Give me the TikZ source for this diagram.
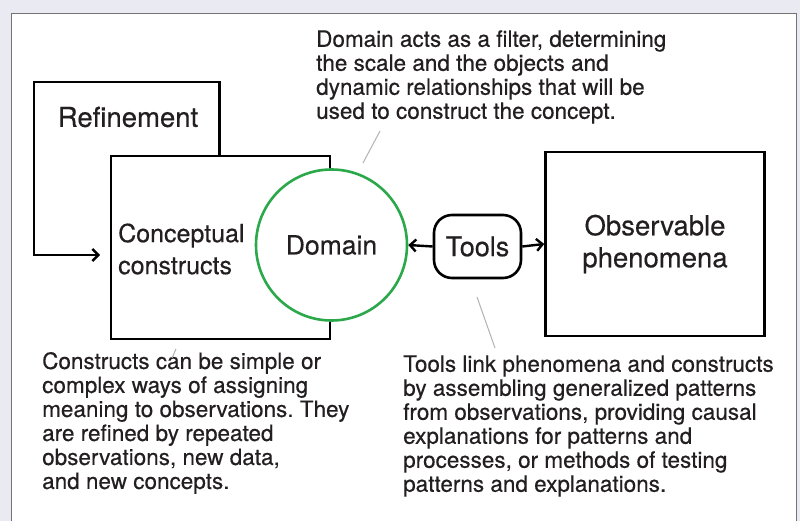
\documentclass[tikz,border=0pt]{standalone}
\usepackage{fontspec}
\setmainfont{TeX Gyre Heros}[FakeBold=0.4]
\usetikzlibrary{arrows.meta}
\definecolor{lav}{HTML}{EAEAF3}
\definecolor{domgreen}{HTML}{2BA84A}
\definecolor{txt}{HTML}{231F20}
\tikzset{
  blk/.style={draw=black, line width=2.6pt},
  boxnode/.style={blk, fill=white, inner sep=0pt},
  bigtxt/.style={text=txt, font=\fontsize{25}{32}\selectfont, inner sep=0pt},
  smalltxt/.style={text=txt, font=\frenchspacing\fontsize{22.5}{24}\selectfont, inner sep=0pt, align=left},
  tip/.style={-{Straight Barb[length=6pt,width=12pt,line width=2.4pt]}},
  pointer/.style={draw=black!30, line width=1pt},
}
\begin{document}
\begin{tikzpicture}[x=1pt,y=-1pt]
\useasboundingbox (0,0) rectangle (800,521);
\clip (0,0) rectangle (800,521);
\fill[lav] (0,0) rectangle (800,521);
\filldraw[fill=white, draw=black!55, line width=0.8pt] (11,13) rectangle (796,540);

% top annotation
\node[smalltxt, anchor=west] (domnote) at (316,77) {Domain acts as a filter, determining\\the scale and the objects and\\dynamic relationships that will be\\used to construct the concept.};

% refinement
\node[bigtxt, font=\fontsize{27.5}{32}\selectfont] (ref) at (128,117) {Refinement};
\coordinate (rtl) at (34,82);
\coordinate (rend) at (100,255);

% conceptual constructs box
\node[boxnode, minimum width=219pt, minimum height=183pt] (cc) at (220.5,247.5) {};
\draw[blk, tip] ([xshift=110pt]cc.north west) |- (rtl) |- (rend);
\node[bigtxt, align=left, anchor=west] (cctext) at (118,249) {Conceptual\\constructs};

% domain
\node[circle, draw=domgreen, line width=2.6pt, fill=white, minimum size=151pt, inner sep=0pt, text=txt, font=\fontsize{26.5}{32}\selectfont] (dom) at (331.5,245) {Domain};

% tools
\node[blk, fill=white, rounded corners=18pt, minimum width=87pt, minimum height=63pt, inner sep=0pt, text=txt, font=\fontsize{27}{32}\selectfont] (tools) at (477.5,246.5) {Tools};

% observable phenomena
\node[boxnode, minimum width=219pt, minimum height=184pt, align=center, text=txt, font=\fontsize{27.5}{32}\selectfont] (obs) at (655,244) {Observable\\phenomena};

\draw[blk, line width=2.4pt, tip] (tools.west) -- (dom.east);
\draw[blk, line width=2.4pt, tip] (tools.east) -- (obs.west);

% bottom annotations
\node[smalltxt, anchor=west] (ccnote) at (42,423) {Constructs can be simple or\\complex ways of assigning\\meaning to observations. They\\are refined by repeated\\observations, new data,\\and new concepts.};
\node[smalltxt, anchor=west] (toolnote) at (403,426) {Tools link phenomena and constructs\\by assembling generalized patterns\\from observations, providing causal\\explanations for patterns and\\processes, or methods of testing\\patterns and explanations.};

% pointer lines
\coordinate (p1a) at (363,163);
\coordinate (p1b) at (380,131);
\draw[pointer] (p1a) -- (p1b);
\coordinate (p2a) at (477,297);
\coordinate (p2b) at (495,348);
\draw[pointer] (p2a) -- (p2b);
\coordinate (p3a) at (172,358);
\coordinate (p3b) at (176,349);
\draw[pointer] (p3a) -- (p3b);
\end{tikzpicture}
\end{document}
